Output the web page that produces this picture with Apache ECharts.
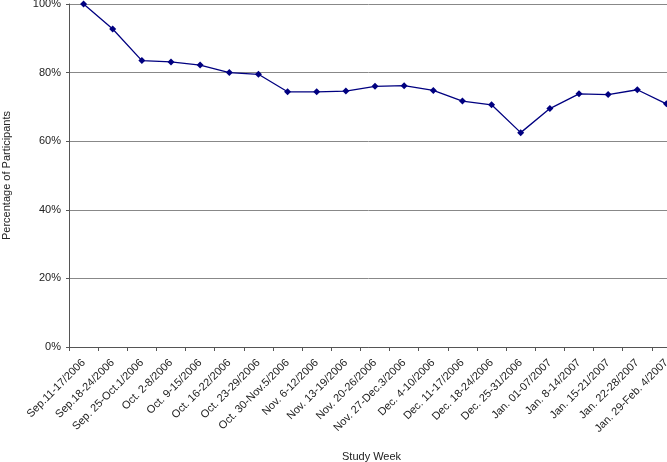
<!DOCTYPE html>
<html>
<head>
<meta charset="utf-8">
<script src="https://cdn.jsdelivr.net/npm/echarts@6/dist/echarts.min.js"></script>
<style>html,body{margin:0;padding:0;background:#fff}#c{width:667px;height:462px}</style>
</head>
<body>
<div id="c"></div>
<script>
const categories = ["Sep.11-17/2006","Sep.18-24/2006","Sep. 25-Oct.1/2006","Oct. 2-8/2006","Oct. 9-15/2006","Oct. 16-22/2006","Oct. 23-29/2006","Oct. 30-Nov.5/2006","Nov. 6-12/2006","Nov. 13-19/2006","Nov. 20-26/2006","Nov. 27-Dec.3/2006","Dec. 4-10/2006","Dec. 11-17/2006","Dec. 18-24/2006","Dec. 25-31/2006","Jan. 01-07/2007","Jan. 8-14/2007","Jan. 15-21/2007","Jan. 22-28/2007","Jan. 29-Feb. 4/2007"];
const participants = [100, 92.7, 83.5, 83.1, 82.2, 80.0, 79.5, 74.4, 74.4, 74.6, 76.0, 76.2, 74.8, 71.7, 70.6, 62.5, 69.5, 73.8, 73.6, 75.0, 70.9];
const yTicks = [0, 20, 40, 60, 80, 100];

const chart = echarts.init(document.getElementById('c'));
const font = 'Liberation Sans, Arial, sans-serif';
chart.setOption({
  animation: false,
  title: {
    text: 'Study Week', left: 337, top: 446,
    textStyle: { fontFamily: font, fontSize: 11, fontWeight: 'normal', color: '#222' }
  },
  grid: { left: 69, right: -14, top: 4, bottom: 115, containLabel: false, outerBoundsMode: 'none' },
  xAxis: {
    type: 'category', data: categories, boundaryGap: true,
    axisLine: { lineStyle: { color: '#555', width: 1 } },
    axisTick: { show: true, length: 4, lineStyle: { color: '#555' } },
    axisLabel: { rotate: 45, interval: 0, margin: 14, fontFamily: font, fontSize: 11, color: '#222' }
  },
  yAxis: {
    type: 'value', min: yTicks[0], max: yTicks[yTicks.length - 1], interval: 20,
    name: 'Percentage of Participants', nameLocation: 'middle', nameGap: 57,
    nameTextStyle: { fontFamily: font, fontSize: 11, color: '#222' },
    axisLine: { show: true, lineStyle: { color: '#555', width: 1 } },
    axisTick: { show: true, length: 3, lineStyle: { color: '#555' } },
    axisLabel: { formatter: '{value}%', margin: 8, fontFamily: font, fontSize: 11, color: '#222' },
    splitLine: { show: true, lineStyle: { color: '#888', width: 1 } }
  },
  series: [{
    type: 'line', data: participants,
    symbol: 'diamond', symbolSize: 7,
    lineStyle: { color: '#000080', width: 1.3 },
    itemStyle: { color: '#000080' }
  }]
});
</script>
</body>
</html>
